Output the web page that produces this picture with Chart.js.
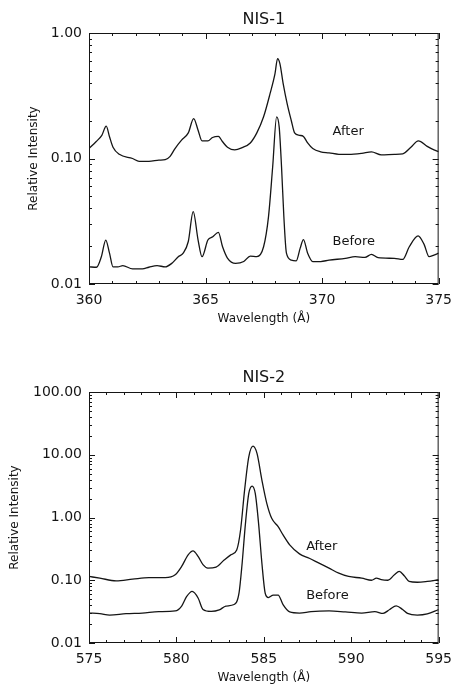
<!DOCTYPE html>
<html>
<head>
<meta charset="utf-8">
<script src="https://cdn.jsdelivr.net/npm/chart.js@4/dist/chart.umd.min.js"></script>
<style>
  body { margin: 0; background: #fff; }
  #wrap { position: relative; width: 460px; height: 686px; }
  canvas { position: absolute; left: 0; }
  #nis1 { top: 0; }
  #nis2 { top: 330px; }
</style>
</head>
<body>
<div id="wrap">
  <canvas id="nis1" width="460" height="330"></canvas>
  <canvas id="nis2" width="460" height="356"></canvas>
</div>
<script>
	/** NIS-1 (360-375 A) **/
	let nis1AfterWave = [360, 360.3, 360.55, 360.74, 360.88, 361.03, 361.3, 361.87, 362.15, 362.57, 363.0, 363.27, 363.48, 363.69, 363.97, 364.26, 364.49, 364.68, 364.85, 365.1, 365.3, 365.55, 365.73, 365.94, 366.25, 366.57, 366.92, 367.2, 367.49, 367.77, 367.98, 368.09, 368.19, 368.33, 368.5, 368.68, 368.82, 369.03, 369.2, 369.38, 369.6, 369.94, 370.3, 370.72, 371.14, 371.7, 372.12, 372.54, 373.1, 373.46, 373.81, 374.13, 374.51, 374.8, 375];
	let nis1After = [0.120, 0.136, 0.153, 0.181, 0.149, 0.123, 0.108, 0.100, 0.095, 0.095, 0.097, 0.098, 0.104, 0.120, 0.140, 0.160, 0.208, 0.168, 0.138, 0.138, 0.147, 0.150, 0.136, 0.123, 0.117, 0.122, 0.133, 0.160, 0.215, 0.330, 0.475, 0.625, 0.570, 0.395, 0.274, 0.200, 0.160, 0.153, 0.150, 0.133, 0.120, 0.113, 0.111, 0.108, 0.108, 0.110, 0.113, 0.107, 0.108, 0.109, 0.123, 0.138, 0.125, 0.117, 0.113];

	let nis1BeforeWave = [360, 360.32, 360.53, 360.72, 360.88, 361.03, 361.24, 361.45, 361.87, 362.29, 362.57, 362.92, 363.27, 363.55, 363.83, 364.04, 364.26, 364.47, 364.68, 364.85, 365.1, 365.31, 365.55, 365.73, 365.94, 366.29, 366.64, 366.92, 367.2, 367.49, 367.7, 367.88, 368.05, 368.16, 368.26, 368.36, 368.47, 368.68, 368.89, 369.06, 369.2, 369.38, 369.6, 369.94, 370.3, 371.0, 371.42, 371.84, 372.12, 372.4, 373.1, 373.46, 373.74, 374.12, 374.38, 374.59, 374.8, 375];
	let nis1Before = [0.0137, 0.0136, 0.0165, 0.0224, 0.0176, 0.0137, 0.0137, 0.0140, 0.0132, 0.0132, 0.0136, 0.0140, 0.0137, 0.0146, 0.0165, 0.0176, 0.0218, 0.0377, 0.0224, 0.0165, 0.0224, 0.0238, 0.0258, 0.0198, 0.0161, 0.0146, 0.0151, 0.0167, 0.0165, 0.0198, 0.0343, 0.0859, 0.215, 0.178, 0.086, 0.0343, 0.0176, 0.0155, 0.0153, 0.0193, 0.0226, 0.0176, 0.0151, 0.0151, 0.0155, 0.0160, 0.0165, 0.0163, 0.0172, 0.0162, 0.0160, 0.0157, 0.0198, 0.0242, 0.0206, 0.0165, 0.0170, 0.0176];

	/** NIS-2 (575-595 A) **/
	let nis2AfterWave = [575, 575.62, 576.55, 577.49, 578.43, 579.36, 579.93, 580.3, 580.67, 580.95, 581.24, 581.52, 581.8, 582.27, 582.73, 583.11, 583.45, 583.67, 583.9, 584.14, 584.38, 584.61, 584.89, 585.17, 585.45, 585.82, 586.1, 586.48, 587.04, 587.6, 588.16, 588.73, 589.29, 589.85, 590.6, 591.16, 591.44, 591.72, 592.1, 592.47, 592.75, 593.03, 593.31, 593.78, 594.35, 595];
	let nis2After = [0.115, 0.108, 0.098, 0.104, 0.110, 0.110, 0.122, 0.166, 0.254, 0.294, 0.240, 0.177, 0.156, 0.162, 0.210, 0.254, 0.304, 0.632, 2.73, 9.27, 13.7, 10.5, 3.94, 1.68, 0.97, 0.714, 0.527, 0.366, 0.263, 0.224, 0.187, 0.156, 0.130, 0.115, 0.108, 0.100, 0.108, 0.102, 0.100, 0.122, 0.138, 0.118, 0.096, 0.093, 0.096, 0.102];

	let nis2BeforeWave = [575, 575.62, 576.18, 577.12, 578.05, 578.99, 579.93, 580.3, 580.58, 580.9, 581.24, 581.52, 581.99, 582.45, 582.83, 583.3, 583.58, 583.76, 583.95, 584.14, 584.33, 584.51, 584.7, 584.89, 585.08, 585.26, 585.54, 585.82, 586.1, 586.48, 587.04, 587.7, 588.73, 589.66, 590.6, 591.35, 591.82, 592.2, 592.57, 592.94, 593.22, 593.78, 594.35, 595];
	let nis2Before = [0.0300, 0.0294, 0.0278, 0.0294, 0.0300, 0.0316, 0.0324, 0.0388, 0.0546, 0.0663, 0.0522, 0.0342, 0.0318, 0.0336, 0.0388, 0.0410, 0.0623, 0.187, 0.807, 2.42, 3.17, 2.42, 0.807, 0.187, 0.062, 0.053, 0.058, 0.058, 0.041, 0.0313, 0.0300, 0.0316, 0.0324, 0.0313, 0.0300, 0.0316, 0.0296, 0.0342, 0.0390, 0.0342, 0.0296, 0.0278, 0.0290, 0.0342];

	/** 축 눈금 **/
	let nis1XTicks = [360, 365, 370, 375];
	let nis1YTicks = [0.01, 0.1, 1];
	let nis2XTicks = [575, 580, 585, 590, 595];
	let nis2YTicks = [0.01, 0.1, 1, 10, 100];

	/** 공통 부분 **/
	let ink = '#151515';
	let fontFamily = '"DejaVu Sans", sans-serif';

	function toPoints(xs, ys) {
		return xs.map(function (x, i) { return {x: x, y: ys[i]}; });
	}

	// IDL style frame: box + inward ticks on all sides, title, curve labels
	function idlFrame(cfg) {
		return {
			id: 'idlFrame',
			afterDatasetsDraw: function (chart) {
				let ctx = chart.ctx, a = chart.chartArea;
				let xs = chart.scales.x, ys = chart.scales.y;
				ctx.save();
				ctx.strokeStyle = ink;
				ctx.lineWidth = 1;
				ctx.strokeRect(a.left + 0.5, a.top + 0.5, a.right - a.left - 1, a.bottom - a.top - 1);
				ctx.beginPath();
				for (let v = xs.min; v <= xs.max; v += 1) {
					let px = Math.round(xs.getPixelForValue(v)) + 0.5;
					let len = cfg.xTicks.indexOf(v) >= 0 ? 6 : 3;
					ctx.moveTo(px, a.bottom); ctx.lineTo(px, a.bottom - len);
					ctx.moveTo(px, a.top); ctx.lineTo(px, a.top + len);
				}
				cfg.yTicks.forEach(function (d, i) {
					for (let k = 1; k <= 9; k++) {
						if (k > 1 && i === cfg.yTicks.length - 1) break;
						let py = Math.round(ys.getPixelForValue(d * k)) + 0.5;
						let len = k === 1 ? 6 : 3;
						ctx.moveTo(a.left, py); ctx.lineTo(a.left + len, py);
						ctx.moveTo(a.right, py); ctx.lineTo(a.right - len, py);
					}
				});
				ctx.stroke();

				ctx.fillStyle = ink;
				ctx.font = '16px ' + fontFamily;
				ctx.textAlign = 'center';
				ctx.textBaseline = 'middle';
				ctx.fillText(cfg.title, (a.left + a.right) / 2, cfg.titleY);

				ctx.font = '13px ' + fontFamily;
				ctx.textAlign = 'left';
				cfg.notes.forEach(function (n) {
					ctx.fillText(n.text, xs.getPixelForValue(n.x), ys.getPixelForValue(n.y));
				});
				ctx.restore();
			}
		};
	}

	function spectrumChart(el, opt) {
		return new Chart(el, {
			type: 'line',
			data: {
				datasets: [{
					label: 'After',
					data: toPoints(opt.afterWave, opt.after),
					borderColor: ink,
					borderWidth: 1.3,
					pointRadius: 0,
					cubicInterpolationMode: 'monotone'
				}, {
					label: 'Before',
					data: toPoints(opt.beforeWave, opt.before),
					borderColor: ink,
					borderWidth: 1.3,
					pointRadius: 0,
					cubicInterpolationMode: 'monotone'
				}]
			},
			options: {
				responsive: false,
				animation: false,
				devicePixelRatio: 1,
				layout: {padding: {top: opt.top, right: 15, left: 0, bottom: 0}},
				plugins: {legend: {display: false}, tooltip: {enabled: false}},
				scales: {
					x: {
						type: 'linear',
						min: opt.xTicks[0],
						max: opt.xTicks[opt.xTicks.length - 1],
						grid: {display: false, drawTicks: false},
						border: {display: false},
						afterBuildTicks: function (s) { s.ticks = opt.xTicks.map(function (v) { return {value: v}; }); },
						afterFit: function (s) { s.height = opt.xHeight; },
						ticks: {color: ink, padding: opt.xPad, maxRotation: 0, font: {family: fontFamily, size: 14},
							callback: function (v) { return String(v); }},
						title: {display: true, text: 'Wavelength (Å)', color: ink,
							font: {family: fontFamily, size: 12}, padding: {top: 0, bottom: opt.xTitlePad}}
					},
					y: {
						type: 'logarithmic',
						min: opt.yTicks[0],
						max: opt.yTicks[opt.yTicks.length - 1],
						grid: {display: false, drawTicks: false},
						border: {display: false},
						afterBuildTicks: function (s) { s.ticks = opt.yTicks.map(function (v) { return {value: v}; }); },
						afterFit: function (s) { s.width = 89; },
						ticks: {color: ink, padding: 7, font: {family: fontFamily, size: 14},
							callback: function (v) { return Number(v).toFixed(2); }},
						title: {display: true, text: 'Relative Intensity', color: ink,
							font: {family: fontFamily, size: 12}, padding: {top: opt.yTitlePad, bottom: 0}}
					}
				}
			},
			plugins: [idlFrame({title: opt.title, titleY: opt.titleY, xTicks: opt.xTicks, yTicks: opt.yTicks, notes: opt.notes})]
		});
	}

	let nis1Chart = spectrumChart(document.getElementById('nis1'), {
		title: 'NIS-1', titleY: 20, top: 33, xHeight: 46, xPad: 8, xTitlePad: 4, yTitlePad: 27,
		afterWave: nis1AfterWave, after: nis1After,
		beforeWave: nis1BeforeWave, before: nis1Before,
		xTicks: nis1XTicks, yTicks: nis1YTicks,
		notes: [{text: 'After', x: 370.45, y: 0.163}, {text: 'Before', x: 370.45, y: 0.0216}]
	});

	let nis2Chart = spectrumChart(document.getElementById('nis2'), {
		title: 'NIS-2', titleY: 48, top: 62, xHeight: 43, xPad: 8, xTitlePad: 1, yTitlePad: 8,
		afterWave: nis2AfterWave, after: nis2After,
		beforeWave: nis2BeforeWave, before: nis2Before,
		xTicks: nis2XTicks, yTicks: nis2YTicks,
		notes: [{text: 'After', x: 587.42, y: 0.34}, {text: 'Before', x: 587.42, y: 0.0565}]
	});
</script>
</body>
</html>
